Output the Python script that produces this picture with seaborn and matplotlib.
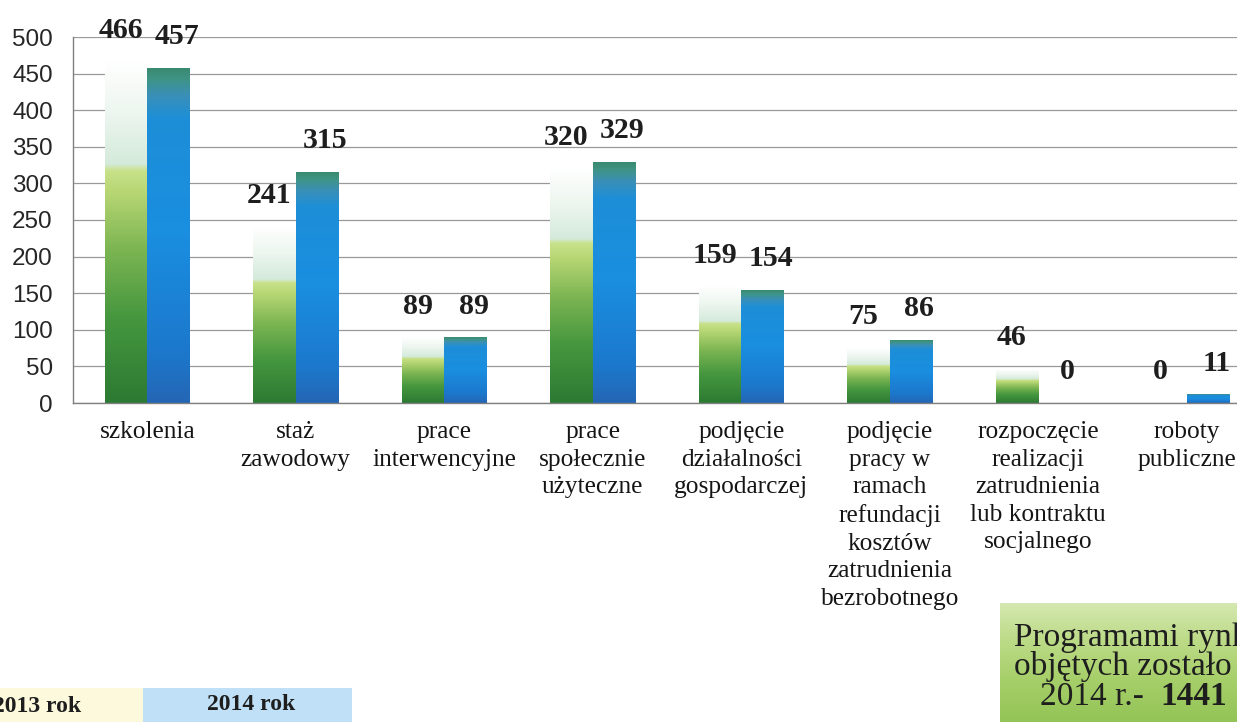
import numpy as np
import pandas as pd
import matplotlib
matplotlib.use("Agg")
import matplotlib.pyplot as plt
import seaborn as sns
from matplotlib.colors import LinearSegmentedColormap
from matplotlib.patches import Rectangle

categories = [
    "szkolenia",
    "staż\nzawodowy",
    "prace\ninterwencyjne",
    "prace\nspołecznie\nużyteczne",
    "podjęcie\ndziałalności\ngospodarczej",
    "podjęcie\npracy w\nramach\nrefundacji\nkosztów\nzatrudnienia\nbezrobotnego",
    "rozpoczęcie\nrealizacji\nzatrudnienia\nlub kontraktu\nsocjalnego",
    "roboty\npubliczne",
]
years = ["2013 rok", "2014 rok"]
v2013 = [466, 241, 89, 320, 159, 75, 46, 0]
v2014 = [457, 315, 89, 329, 154, 86, 0, 11]
yticks = list(range(0, 501, 50))
box_lines = ["Programami rynku", "objętych zostało", "2014 r.- ", "1441"]

df = pd.DataFrame({
    "kategoria": categories * 2,
    "rok": [years[0]] * len(categories) + [years[1]] * len(categories),
    "wartosc": v2013 + v2014,
})

sns.set_style("white")
plt.rcParams["font.family"] = ["Liberation Serif", "DejaVu Serif"]

W, H = 1237, 722
fig = plt.figure(figsize=(W / 100, H / 100), dpi=100)
fig.patch.set_facecolor("white")

def fx(px):
    return px / W

def fy(py):
    return 1 - py / H

ax = fig.add_axes([fx(73), fy(403), fx(1261) - fx(73), fy(37) - fy(403)])

sns.barplot(data=df, x="kategoria", y="wartosc", hue="rok", order=categories,
            hue_order=years, width=0.57, palette=["#5aa048", "#1a8ad8"],
            saturation=1, legend=False, ax=ax, errorbar=None)

cmap13 = LinearSegmentedColormap.from_list("g13", [
    (0.0, "#2c7a33"), (0.25, "#46973f"), (0.45, "#7cb552"),
    (0.62, "#b8d774"), (0.68, "#c8e18a"), (0.70, "#d4eadb"),
    (0.85, "#edf6ef"), (1.0, "#ffffff")])
cmap14 = LinearSegmentedColormap.from_list("b14", [
    (0.0, "#2566b4"), (0.15, "#1c78cc"), (0.5, "#1a8ee0"),
    (0.85, "#1d8fd8"), (0.92, "#3a8fb8"), (0.97, "#3f9485"), (1.0, "#3a8a70")])
grad = np.linspace(0, 1, 256).reshape(-1, 1)

for cont, cmap in zip(ax.containers, [cmap13, cmap14]):
    for bar in cont:
        h = bar.get_height()
        bar.set_facecolor("none")
        bar.set_edgecolor("none")
        if h <= 0:
            continue
        x0, w = bar.get_x(), bar.get_width()
        ax.imshow(grad, extent=[x0, x0 + w, 0, h], origin="lower",
                  aspect="auto", cmap=cmap, zorder=2, interpolation="bilinear")

for cont, dx in zip(ax.containers, [-4, 6]):
    for bar in cont:
        h = bar.get_height()
        ax.annotate(f"{int(round(h))}", (bar.get_x() + bar.get_width() / 2, h),
                    xytext=(dx, 13), textcoords="offset points", ha="center",
                    va="bottom", fontsize=21.5, fontweight="bold", color="#1e1e1e",
                    family="Liberation Serif", zorder=5)

ax.set_xlim(-0.5, len(categories) - 0.5)
ax.set_ylim(0, 500)
ax.set_yticks(yticks)
ax.set_yticklabels([str(t) for t in yticks], family="Liberation Sans",
                   fontsize=17.5, color="#262626")
ax.set_xticks(range(len(categories)))
ax.set_xticklabels(categories, fontsize=18.3, color="#151515", linespacing=1.33,
                   family="Liberation Serif")
ax.set_xticks(np.arange(-0.5, len(categories), 1), minor=True)
ax.tick_params(axis="x", which="major", length=0, pad=13)
ax.tick_params(axis="x", which="minor", length=9, color="#777777", width=1)
ax.tick_params(axis="y", length=10, color="#777777", width=1, pad=4.5)
ax.set_xlabel("")
ax.set_ylabel("")
ax.yaxis.grid(True, color="#999999", lw=0.9)
ax.xaxis.grid(False)
ax.set_axisbelow(True)
for s in ["top", "right"]:
    ax.spines[s].set_visible(False)
for s in ["left", "bottom"]:
    ax.spines[s].set_color("#808080")
    ax.spines[s].set_linewidth(1)
ax.set_facecolor("white")

# legend boxes bottom-left
fig.patches.append(Rectangle((fx(-5), 0), fx(148), fy(688), transform=fig.transFigure,
                             facecolor="#fdf9dc", edgecolor="none", zorder=1))
fig.patches.append(Rectangle((fx(143), 0), fx(352) - fx(143), fy(688),
                             transform=fig.transFigure, facecolor="#bfe0f6",
                             edgecolor="none", zorder=1))
fig.text(fx(81), fy(706), years[0], ha="right", va="center", fontsize=17,
         fontweight="bold", color="#1e1e1e", family="Liberation Serif")
fig.text(fx(251), fy(704), years[1], ha="center", va="center", fontsize=17,
         fontweight="bold", color="#1e1e1e", family="Liberation Serif")

# green info box bottom-right
bax = fig.add_axes([fx(1000), 0, fx(1300) - fx(1000), fy(603)])
gbox = LinearSegmentedColormap.from_list("gb", [
    (0.0, "#93c457"), (0.35, "#a6cf69"), (0.7, "#bddb88"), (1.0, "#d5e8b0")])
bax.imshow(np.linspace(0, 1, 128).reshape(-1, 1), origin="lower", aspect="auto",
           cmap=gbox, extent=[0, 1, 0, 1], interpolation="bilinear")
bax.set_xlim(0, 1)
bax.set_ylim(0, 1)
bax.axis("off")
fig.text(fx(1014), fy(646), box_lines[0], ha="left", va="baseline", fontsize=24,
         color="#1e1e1e", family="Liberation Serif")
fig.text(fx(1014), fy(675), box_lines[1], ha="left", va="baseline", fontsize=24,
         color="#1e1e1e", family="Liberation Serif")
fig.text(fx(1040), fy(705), box_lines[2], ha="left", va="baseline", fontsize=24,
         color="#1e1e1e", family="Liberation Serif")
fig.text(fx(1160), fy(705), box_lines[3], ha="left", va="baseline", fontsize=24,
         fontweight="bold", color="#1e1e1e", family="Liberation Serif")

fig.savefig("out.png", dpi=100, facecolor="white")
